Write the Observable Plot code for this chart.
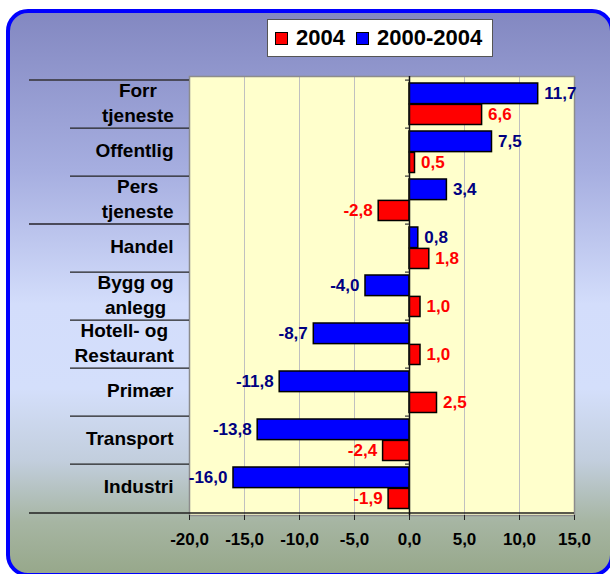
<!DOCTYPE html>
<html><head><meta charset="utf-8">
<script src="https://cdn.jsdelivr.net/npm/d3@7"></script>
<script src="https://cdn.jsdelivr.net/npm/@observablehq/plot@0.6"></script>
<style>
html,body{margin:0;padding:0;width:610px;height:574px;overflow:hidden;background:#fff;font-family:"Liberation Sans",Arial,sans-serif;}
#panel{position:absolute;left:6px;top:9px;width:608px;height:568px;box-sizing:border-box;border:4px solid #0000ff;border-radius:22px;
 background:linear-gradient(to bottom,#8388c1 0%,#a6aee0 28%,#d3ddfb 52%,#d4dffb 67%,#c2cedd 80%,#a6b5a2 91%,#97a88b 100%);}
#wrap{position:absolute;left:0;top:0;width:610px;height:574px;}
#legend{position:absolute;left:267px;top:19px;width:226px;height:38px;box-sizing:border-box;background:#fff;border:1px solid #555;
 display:flex;align-items:center;padding-left:7px;font-weight:bold;font-size:22px;color:#000;white-space:nowrap;}
.it{display:flex;align-items:center;margin-right:11px;flex-shrink:0;white-space:nowrap;}
.sw{width:11px;height:11px;border:1px solid #000;margin-right:8px;flex-shrink:0;}
g[aria-label="y-axis tick label"]{font-size:19px;font-weight:bold;fill:#000;}
g[aria-label="x-axis tick label"]{font-size:17px;font-weight:bold;fill:#000;}
</style></head>
<body>
<div id="panel"></div>
<div id="wrap"></div>
<div id="legend"></div>
<script>
// ---- data ----
const categories = ["Forr\ntjeneste","Offentlig","Pers\ntjeneste","Handel","Bygg og\nanlegg","Hotell- og\nRestaurant","Primær","Transport","Industri"];
const values2004 = [6.6, 0.5, -2.8, 1.8, 1.0, 1.0, 2.5, -2.4, -1.9];
const values2000_2004 = [11.7, 7.5, 3.4, 0.8, -4.0, -8.7, -11.8, -13.8, -16.0];
const seriesNames = ["2004", "2000-2004"];
const seriesFill = ["#ff0000", "#0000ff"];
const seriesLabelColor = ["#ff0000", "#000080"];
const xTicks = [-20, -15, -10, -5, 0, 5, 10, 15];
const gridTicks = [-15, -10, -5, 5, 10];
const longDividers = ["Forr\ntjeneste", "Handel"];

const fmt = v => v.toFixed(1).replace(".", ",");

const W = 610, H = 574, mT = 76, mB = 59, mL = 189, mR = 36;
const bw = (H - mT - mB) / categories.length;

const rowsBlue = categories.map((c, i) => ({cat: c, value: values2000_2004[i]}));
const rowsRed = categories.map((c, i) => ({cat: c, value: values2004[i]}));

function labels(data, color, dy) {
  const base = {x: "value", y: "cat", text: d => fmt(d.value), fill: color, fontSize: 17, fontWeight: "bold", dy};
  return [
    Plot.text(data.filter(d => d.value >= 0), {...base, textAnchor: "start", dx: 6}),
    Plot.text(data.filter(d => d.value < 0), {...base, textAnchor: "end", dx: -6})
  ];
}

const chart = Plot.plot({
  width: W, height: H,
  marginTop: mT, marginBottom: mB, marginLeft: mL, marginRight: mR,
  style: {background: "transparent", fontFamily: "Liberation Sans, Arial, sans-serif", overflow: "visible"},
  x: {domain: [-20, 15], label: null},
  y: {domain: categories, padding: 0, label: null},
  marks: [
    Plot.frame({fill: "#ffffcc", stroke: null}),
    Plot.ruleX(gridTicks, {stroke: "#c0c0c0", strokeWidth: 1}),
    Plot.frame({stroke: "#8c8c8c", strokeWidth: 1.5}),
    Plot.ruleY(categories.filter(c => !longDividers.includes(c)), {dy: -bw / 2, insetLeft: -119, insetRight: W - mL - mR, stroke: "#222", strokeWidth: 1.3}),
    Plot.ruleY(longDividers, {dy: -bw / 2, insetLeft: -160, insetRight: W - mL - mR, stroke: "#4a4a5a", strokeWidth: 2}),
    Plot.ruleY([categories[categories.length - 1]], {dy: bw / 2, insetLeft: -160, stroke: "#222", strokeWidth: 1.5}),
    Plot.barX(rowsBlue, {x: "value", y: "cat", fill: seriesFill[1], stroke: "#000", strokeWidth: 1.5, insetTop: 3, insetBottom: bw / 2}),
    Plot.barX(rowsRed, {x: "value", y: "cat", fill: seriesFill[0], stroke: "#000", strokeWidth: 1.5, insetTop: bw / 2, insetBottom: 3.5}),
    Plot.ruleX([0], {stroke: "#111", strokeWidth: 1.5}),
    Plot.ruleY(categories, {x1: () => 0, x2: () => 0, dy: -bw / 2, insetLeft: -4, stroke: "#333", strokeWidth: 1.2}),
    ...labels(rowsBlue, seriesLabelColor[1], -10.7),
    ...labels(rowsRed, seriesLabelColor[0], 10.4),
    Plot.axisX({ticks: xTicks, tickSize: 5, tickPadding: 12, tickFormat: fmt, stroke: "#222", label: null}),
    Plot.axisY({tickSize: 0, tickPadding: 16, lineHeight: 1.3, dy: -3, tickFormat: d => d, label: null})
  ]
});
document.getElementById("wrap").append(chart);

// center multi-line category labels within their block (right-aligned block)
chart.querySelectorAll('g[aria-label="y-axis tick label"] text').forEach(t => {
  const spans = t.querySelectorAll("tspan");
  if (spans.length > 1) {
    const b = t.getBBox();
    t.setAttribute("text-anchor", "middle");
    spans.forEach(s => s.setAttribute("x", b.x + b.width / 2));
  }
});

// legend
const lg = document.getElementById("legend");
seriesNames.forEach((n, i) => {
  const it = document.createElement("div"); it.className = "it";
  const sw = document.createElement("div"); sw.className = "sw"; sw.style.background = seriesFill[i];
  const tx = document.createElement("span"); tx.textContent = n;
  it.append(sw, tx); lg.append(it);
});
</script>
</body></html>
